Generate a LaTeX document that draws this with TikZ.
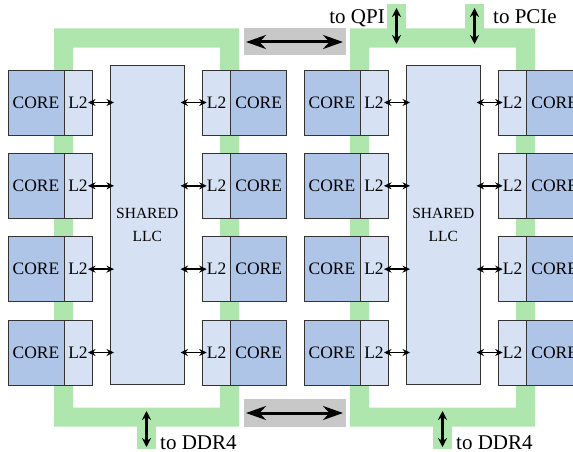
\documentclass[tikz,border=0pt]{standalone}
\usepackage{fontspec}
\setmainfont{Liberation Serif}
\usetikzlibrary{arrows.meta,calc}
\definecolor{coreblue}{HTML}{AFC5E7}
\definecolor{lightblue}{HTML}{D6E2F4}
\definecolor{ringgreen}{HTML}{AEE6AE}
\definecolor{bargray}{HTML}{C8C8C8}
\definecolor{edgecol}{HTML}{333333}
\begin{document}
\begin{tikzpicture}[x=1pt,y=-1pt,
 box/.style={draw=edgecol,line width=0.7pt,inner sep=0pt,outer sep=0pt,anchor=north west,minimum height=65pt},
 corebox/.style={box,fill=coreblue,minimum width=56pt,font=\fontsize{17.5}{18}\selectfont},
 l2box/.style={box,fill=lightblue,minimum width=28pt,font=\fontsize{17.5}{18}\selectfont},
 llcbox/.style={box,fill=lightblue,minimum width=74.5pt,minimum height=319.5pt,font=\fontsize{15.5}{23}\selectfont,align=center},
 smallarr/.style={line width=1.5pt,{Stealth[length=7.5pt,width=7pt]}-{Stealth[length=7.5pt,width=7pt]}},
 stubarr/.style={line width=2.2pt,{Stealth[length=9pt,width=9pt]}-{Stealth[length=9pt,width=9pt]}},
 bigarr/.style={line width=3pt,{Stealth[length=20pt,width=14pt]}-{Stealth[length=20pt,width=14pt]}},
 lbl/.style={font=\fontsize{21}{21}\selectfont,inner sep=0pt}
]
\useasboundingbox (0,0) rectangle (573,452);
\clip (0,0) rectangle (573,452);
% rings
\foreach \ox in {0,296} {
  \fill[ringgreen,even odd rule] (\ox+54,28.3) rectangle (\ox+239,426.7) (\ox+73,47.7) rectangle (\ox+220,407.7);
}
% stubs
\fill[ringgreen] (387.3,4) rectangle (405.7,30);
\fill[ringgreen] (465.3,4) rectangle (483.7,30);
\fill[ringgreen] (137.3,425) rectangle (155.7,449.3);
\fill[ringgreen] (433.3,425) rectangle (451.7,449.3);
% gray bars
\fill[bargray] (244,28.3) rectangle (345.5,55.5);
\fill[bargray] (244,399) rectangle (345.5,426.7);
\coordinate (ta) at (246,42);
\coordinate (tb) at (343,42);
\coordinate (ba) at (246,413);
\coordinate (bb) at (343,413);
\draw[bigarr] (ta) -- (tb);
\draw[bigarr] (ba) -- (bb);
% cores
\foreach \s/\ox in {1/0,2/296} {
  \node[llcbox] (llc\s) at (\ox+110,65) {SHARED\\LLC};
  \foreach \r in {1,...,4} {
    \pgfmathsetmacro\yt{70+83.33*(\r-1)}
    \node[corebox] (cl\s\r) at (\ox+8,\yt) {CORE};
    \node[l2box] (ll\s\r) at (cl\s\r.north east) {L2};
    \node[l2box] (lr\s\r) at (\ox+202.7,\yt) {L2};
    \node[corebox] (cr\s\r) at (lr\s\r.north east) {CORE};
    \draw[smallarr] ($(ll\s\r.east)+(-4,0)$) -- ($(llc\s.west |- ll\s\r.east)+(4,0)$);
    \draw[smallarr] ($(llc\s.east |- lr\s\r.west)+(-4,0)$) -- ($(lr\s\r.west)+(4,0)$);
  }
}
% stub arrows
\coordinate (q1) at (396.5,8);   \coordinate (q2) at (396.5,44);
\coordinate (p1) at (474.5,8);   \coordinate (p2) at (474.5,44);
\coordinate (d1) at (146.5,411); \coordinate (d2) at (146.5,447);
\coordinate (e1) at (442.5,411); \coordinate (e2) at (442.5,447);
\draw[stubarr] (q1) -- (q2);
\draw[stubarr] (p1) -- (p2);
\draw[stubarr] (d1) -- (d2);
\draw[stubarr] (e1) -- (e2);
% labels
\node[lbl,anchor=base east] (qpi) at (385,24) {to QPI};
\node[lbl,anchor=base west] (pcie) at (493,24) {to PCIe};
\node[lbl,anchor=base west] (ddra) at (160,449) {to DDR4};
\node[lbl,anchor=base west] (ddrb) at (456,449) {to DDR4};
\end{tikzpicture}
\end{document}
